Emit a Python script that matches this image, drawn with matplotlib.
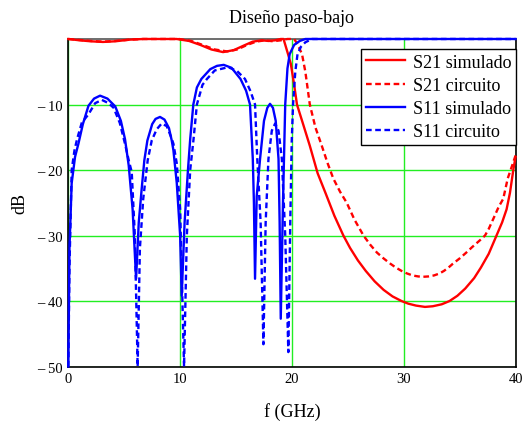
import matplotlib
matplotlib.use('Agg')
import matplotlib.pyplot as plt
from matplotlib.ticker import FuncFormatter

plt.rcParams['font.family'] = ['Liberation Serif', 'DejaVu Serif']

# S11 simulado (solid blue)
f_s11_sim = [0, 0.1, 0.3, 0.6, 0.9, 1.3, 1.8, 2.3, 2.84, 3.5, 4.2, 4.7, 5.07, 5.4, 5.75,
             6.06, 6.3, 6.56, 6.8, 7.07, 7.5, 7.8, 8.2, 8.6, 9.0, 9.25, 9.4, 9.7, 10.0,
             10.14, 10.4, 10.7, 10.9, 11.18, 11.5, 11.9, 12.7, 13.3, 13.9, 14.6, 15.4,
             15.9, 16.25, 16.5, 16.6, 16.7, 16.85, 17.15, 17.5, 17.8, 18.04, 18.3, 18.55,
             18.8, 18.9, 19.0, 19.2, 19.4, 19.6, 19.8, 20.2, 20.7, 21.2, 40]
db_s11_sim = [-50, -32, -22, -18, -16, -13, -10.2, -9.1, -8.65, -9.1, -10.3, -12.5, -15.3,
              -19.3, -26, -36.6, -28, -22.9, -18.5, -15.5, -13, -12.2, -11.9, -12.3, -13.6,
              -15.5, -17, -22, -30, -39.2, -28, -20, -15.3, -10, -7.4, -6.1, -4.6, -4.1,
              -3.95, -4.4, -6.1, -7.9, -10, -18.3, -25, -36.6, -24, -18.3, -12.5, -10.5,
              -9.9, -10.5, -12.5, -18.3, -28, -42.7, -25, -10, -4.5, -2.3, -0.9, -0.3, 0, 0]

# S11 circuito (dashed blue)
f_s11_cir = [0, 0.1, 0.3, 0.55, 0.78, 1.2, 1.8, 2.4, 3.0, 3.6, 4.05, 4.6, 5.07, 5.4, 5.67,
             5.95, 6.2, 6.4, 6.7, 7.1, 7.46, 7.9, 8.35, 8.8, 9.2, 9.4, 9.7, 10.0, 10.35,
             10.6, 10.9, 11.2, 11.5, 12.0, 12.4, 13.1, 14.3, 15.1, 15.8, 16.3, 16.7, 16.9,
             17.2, 17.45, 17.65, 17.9, 18.2, 18.5, 18.8, 19.1, 19.4, 19.68, 19.85, 19.98,
             20.1, 20.3, 20.5, 20.8, 21.2, 21.8, 40]
db_s11_cir = [-50, -35, -20, -17, -15.3, -12.8, -11.5, -9.8, -9.3, -9.8, -10.5, -12.8, -16,
              -18.5, -20.3, -30, -50, -32, -24.4, -18.5, -15.5, -13.8, -12.9, -13.3, -15,
              -16, -19, -26, -50, -30, -20, -15.3, -10, -7, -6.1, -4.8, -4.3, -4.9, -6.1,
              -8, -10, -18.3, -28, -46.6, -28, -18.3, -14, -12.9, -14, -18.3, -30, -47.8,
              -28, -15.7, -10, -5, -2.3, -1.2, -0.5, 0, 0]

# S21 simulado (solid red)
f_s21_sim = [0, 1, 2, 3.1, 4.2, 5.5, 6.7, 8, 9.7, 10.8, 11.8, 12.8, 13.84, 14.8, 15.7,
             16.5, 17.3, 17.9, 18.5, 19.0, 19.25, 19.65, 19.9, 20.2, 20.45, 21.0, 21.6,
             22.3, 23.0, 23.8, 24.6, 25.2, 25.9, 26.6, 27.4, 28.2, 29.0, 29.8, 30.4, 31.1,
             31.9, 32.6, 33.4, 34.1, 34.8, 35.5, 36.3, 36.9, 37.6, 38.3, 38.8, 39.2, 39.5,
             39.8, 40]
db_s21_sim = [0, -0.2, -0.35, -0.45, -0.35, -0.1, 0, 0, 0, -0.3, -0.9, -1.6, -2.0, -1.7,
              -1.0, -0.4, -0.2, -0.3, -0.2, 0, 0, -2.3, -3.8, -7, -10, -13, -16.3, -20.5,
              -23.5, -27, -30, -31.9, -33.8, -35.4, -37, -38.3, -39.3, -40, -40.4, -40.7,
              -40.9, -40.8, -40.5, -40, -39.2, -38.1, -36.5, -34.9, -32.8, -30, -28, -26,
              -23.5, -20, -18]

# S21 circuito (dashed red)
f_s21_cir = [0, 1, 2, 3.1, 4.2, 5.5, 6.7, 8, 9.9, 11.0, 12.0, 13.1, 14.2, 15.1, 16.0,
             16.8, 17.6, 18.3, 19.0, 19.6, 20.2, 20.5, 20.9, 21.2, 21.6, 22.1, 22.67,
             23.2, 23.7, 24.3, 24.9, 25.6, 26.4, 27.0, 27.6, 28.2, 28.8, 29.3, 29.8, 30.3,
             30.8, 31.3, 31.75, 32.2, 32.7, 33.2, 33.6, 34.0, 34.4, 35.0, 35.6, 36.1, 36.5,
             36.9, 37.27, 37.6, 38.0, 38.5, 38.9, 39.3, 39.7, 40]
db_s21_cir = [0, -0.15, -0.3, -0.4, -0.3, -0.1, 0, 0, 0, -0.3, -0.9, -1.6, -1.9, -1.6,
              -0.9, -0.4, -0.2, -0.35, -0.2, 0, 0, -0.8, -2.3, -5, -10, -13.5, -16.3,
              -19, -21.3, -23.3, -25, -27.6, -30, -31.4, -32.6, -33.5, -34.3, -34.9, -35.4,
              -35.8, -36.1, -36.25, -36.3, -36.25, -36.1, -35.8, -35.4, -34.9, -34.3, -33.5,
              -32.6, -31.8, -31.2, -30.6, -30, -29, -27.5, -25.6, -24.4, -21.3, -19.3, -17.8]

labels = ['S21 simulado', 'S21 circuito', 'S11 simulado', 'S11 circuito']
xticks = [0, 10, 20, 30, 40]
yticks = [-50, -40, -30, -20, -10]

fig = plt.figure(figsize=(5.26, 4.31), dpi=100)
ax = fig.add_axes([0.1299, 0.1473, 0.8502, 0.7599])

lw = 1.7
dash = (2.4, 1.5)
ax.plot(f_s21_sim, db_s21_sim, color='#ff0000', lw=lw, clip_on=False, zorder=5, label=labels[0])
ax.plot(f_s21_cir, db_s21_cir, color='#ff0000', lw=lw, dashes=dash, clip_on=False, zorder=5, label=labels[1])
ax.plot(f_s11_sim, db_s11_sim, color='#0000ff', lw=lw, clip_on=False, zorder=6, label=labels[2])
ax.plot(f_s11_cir, db_s11_cir, color='#0000ff', lw=lw, dashes=dash, clip_on=False, zorder=6, label=labels[3])

ax.set_xlim(0, 40)
ax.set_ylim(-50, 0)
ax.set_xticks(xticks)
ax.set_yticks(yticks)
ax.yaxis.set_major_formatter(FuncFormatter(lambda v, p: '\u2013 %d' % abs(v)))
ax.tick_params(length=0, labelsize=10.5, pad=4)
ax.grid(True, color='#22ee22', lw=1.0)
ax.set_axisbelow(True)
for s in ax.spines.values():
    s.set_color('black')
    s.set_linewidth(1.2)
ax.spines['top'].set_color('#555555')

ax.set_title('Dise\u00f1o paso-bajo', fontsize=13, pad=12)
ax.set_xlabel('f (GHz)', fontsize=13, labelpad=12)
ax.set_ylabel('dB', fontsize=13, labelpad=6)

leg = ax.legend(loc='upper right', bbox_to_anchor=(1.0, 1 - 10 / 327), borderaxespad=0,
                fancybox=False, edgecolor='black', framealpha=1, fontsize=13,
                handlelength=2.2, handletextpad=0.4, labelspacing=0.35, borderpad=0.25)
leg.get_frame().set_linewidth(1.0)
leg.set_zorder(10)

fig.savefig('out.png', dpi=100)
